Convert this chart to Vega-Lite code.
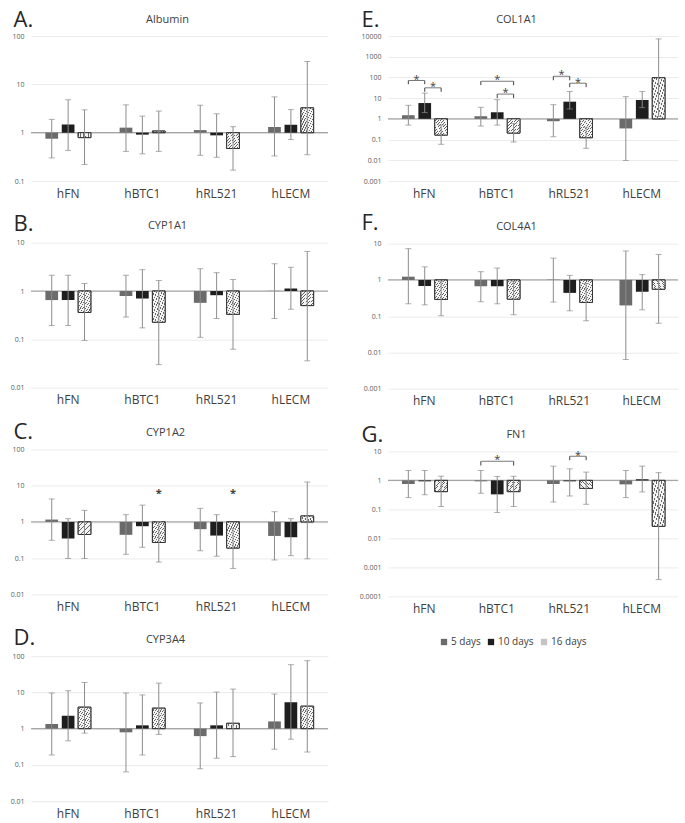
{
"$schema":"https://vega.github.io/schema/vega-lite/v6.json",
"padding":{"left":10,"top":8,"right":0,"bottom":6},
"spacing":30,
"datasets":{
"v":[
{"p":"A","g":"hFN","d":"5 days","m":0.75,"lo":0.30,"hi":1.88},
{"p":"A","g":"hFN","d":"10 days","m":1.48,"lo":0.43,"hi":4.8},
{"p":"A","g":"hFN","d":"16 days","m":0.79,"lo":0.22,"hi":2.97},
{"p":"A","g":"hBTC1","d":"5 days","m":1.27,"lo":0.41,"hi":3.76},
{"p":"A","g":"hBTC1","d":"10 days","m":0.91,"lo":0.365,"hi":2.2},
{"p":"A","g":"hBTC1","d":"16 days","m":1.08,"lo":0.41,"hi":2.8},
{"p":"A","g":"hRL521","d":"5 days","m":1.13,"lo":0.34,"hi":3.7},
{"p":"A","g":"hRL521","d":"10 days","m":0.88,"lo":0.31,"hi":2.46},
{"p":"A","g":"hRL521","d":"16 days","m":0.47,"lo":0.168,"hi":1.33},
{"p":"A","g":"hLECM","d":"5 days","m":1.31,"lo":0.33,"hi":5.5},
{"p":"A","g":"hLECM","d":"10 days","m":1.46,"lo":0.72,"hi":3.0},
{"p":"A","g":"hLECM","d":"16 days","m":3.26,"lo":0.35,"hi":29.7},
{"p":"B","g":"hFN","d":"5 days","m":0.65,"lo":0.193,"hi":2.12},
{"p":"B","g":"hFN","d":"10 days","m":0.65,"lo":0.193,"hi":2.12},
{"p":"B","g":"hFN","d":"16 days","m":0.36,"lo":0.095,"hi":1.43},
{"p":"B","g":"hBTC1","d":"5 days","m":0.79,"lo":0.29,"hi":2.12},
{"p":"B","g":"hBTC1","d":"10 days","m":0.70,"lo":0.173,"hi":2.77},
{"p":"B","g":"hBTC1","d":"16 days","m":0.226,"lo":0.030,"hi":1.65},
{"p":"B","g":"hRL521","d":"5 days","m":0.57,"lo":0.11,"hi":2.9},
{"p":"B","g":"hRL521","d":"10 days","m":0.82,"lo":0.27,"hi":2.4},
{"p":"B","g":"hRL521","d":"16 days","m":0.33,"lo":0.0625,"hi":1.73},
{"p":"B","g":"hLECM","d":"5 days","m":1.01,"lo":0.27,"hi":3.67},
{"p":"B","g":"hLECM","d":"10 days","m":1.13,"lo":0.42,"hi":3.1},
{"p":"B","g":"hLECM","d":"16 days","m":0.50,"lo":0.036,"hi":6.6},
{"p":"C","g":"hFN","d":"5 days","m":1.16,"lo":0.31,"hi":4.3},
{"p":"C","g":"hFN","d":"10 days","m":0.35,"lo":0.098,"hi":1.23},
{"p":"C","g":"hFN","d":"16 days","m":0.45,"lo":0.098,"hi":2.08},
{"p":"C","g":"hBTC1","d":"5 days","m":0.44,"lo":0.128,"hi":1.58},
{"p":"C","g":"hBTC1","d":"10 days","m":0.76,"lo":0.2,"hi":2.9},
{"p":"C","g":"hBTC1","d":"16 days","m":0.27,"lo":0.078,"hi":1.02},
{"p":"C","g":"hRL521","d":"5 days","m":0.63,"lo":0.16,"hi":2.36},
{"p":"C","g":"hRL521","d":"10 days","m":0.42,"lo":0.113,"hi":1.58},
{"p":"C","g":"hRL521","d":"16 days","m":0.19,"lo":0.052,"hi":0.66},
{"p":"C","g":"hLECM","d":"5 days","m":0.41,"lo":0.089,"hi":1.91},
{"p":"C","g":"hLECM","d":"10 days","m":0.38,"lo":0.117,"hi":1.23},
{"p":"C","g":"hLECM","d":"16 days","m":1.46,"lo":0.096,"hi":12.6},
{"p":"D","g":"hFN","d":"5 days","m":1.34,"lo":0.187,"hi":9.6},
{"p":"D","g":"hFN","d":"10 days","m":2.26,"lo":0.46,"hi":11.1},
{"p":"D","g":"hFN","d":"16 days","m":3.9,"lo":0.75,"hi":18.7},
{"p":"D","g":"hBTC1","d":"5 days","m":0.79,"lo":0.064,"hi":9.6},
{"p":"D","g":"hBTC1","d":"10 days","m":1.23,"lo":0.187,"hi":8.5},
{"p":"D","g":"hBTC1","d":"16 days","m":3.66,"lo":0.69,"hi":18},
{"p":"D","g":"hRL521","d":"5 days","m":0.62,"lo":0.078,"hi":5.1},
{"p":"D","g":"hRL521","d":"10 days","m":1.23,"lo":0.152,"hi":10.2},
{"p":"D","g":"hRL521","d":"16 days","m":1.4,"lo":0.169,"hi":12.3},
{"p":"D","g":"hLECM","d":"5 days","m":1.58,"lo":0.27,"hi":9.0},
{"p":"D","g":"hLECM","d":"10 days","m":5.3,"lo":0.51,"hi":58},
{"p":"D","g":"hLECM","d":"16 days","m":4.15,"lo":0.226,"hi":74.6},
{"p":"E","g":"hFN","d":"5 days","m":1.5,"lo":0.5,"hi":4.5},
{"p":"E","g":"hFN","d":"10 days","m":5.8,"lo":2.0,"hi":17.5},
{"p":"E","g":"hFN","d":"16 days","m":0.165,"lo":0.059,"hi":0.5},
{"p":"E","g":"hBTC1","d":"5 days","m":1.34,"lo":0.45,"hi":3.6},
{"p":"E","g":"hBTC1","d":"10 days","m":2.08,"lo":0.5,"hi":8.4},
{"p":"E","g":"hBTC1","d":"16 days","m":0.206,"lo":0.076,"hi":0.6},
{"p":"E","g":"hRL521","d":"5 days","m":0.77,"lo":0.137,"hi":4.85},
{"p":"E","g":"hRL521","d":"10 days","m":6.75,"lo":3.0,"hi":21},
{"p":"E","g":"hRL521","d":"16 days","m":0.123,"lo":0.038,"hi":0.4},
{"p":"E","g":"hLECM","d":"5 days","m":0.345,"lo":0.0098,"hi":11.8},
{"p":"E","g":"hLECM","d":"10 days","m":8.2,"lo":3.5,"hi":21},
{"p":"E","g":"hLECM","d":"16 days","m":97,"lo":1.3,"hi":7240},
{"p":"F","g":"hFN","d":"5 days","m":1.23,"lo":0.22,"hi":7.3},
{"p":"F","g":"hFN","d":"10 days","m":0.68,"lo":0.206,"hi":2.3},
{"p":"F","g":"hFN","d":"16 days","m":0.29,"lo":0.103,"hi":0.9},
{"p":"F","g":"hBTC1","d":"5 days","m":0.67,"lo":0.25,"hi":1.69},
{"p":"F","g":"hBTC1","d":"10 days","m":0.67,"lo":0.22,"hi":2.13},
{"p":"F","g":"hBTC1","d":"16 days","m":0.295,"lo":0.11,"hi":0.9},
{"p":"F","g":"hRL521","d":"5 days","m":1.02,"lo":0.245,"hi":4.0},
{"p":"F","g":"hRL521","d":"10 days","m":0.44,"lo":0.141,"hi":1.34},
{"p":"F","g":"hRL521","d":"16 days","m":0.24,"lo":0.075,"hi":0.8},
{"p":"F","g":"hLECM","d":"5 days","m":0.198,"lo":0.0064,"hi":6.3},
{"p":"F","g":"hLECM","d":"10 days","m":0.47,"lo":0.15,"hi":1.4},
{"p":"F","g":"hLECM","d":"16 days","m":0.555,"lo":0.064,"hi":5.05},
{"p":"G","g":"hFN","d":"5 days","m":0.75,"lo":0.255,"hi":2.2},
{"p":"G","g":"hFN","d":"10 days","m":0.93,"lo":0.32,"hi":2.2},
{"p":"G","g":"hFN","d":"16 days","m":0.41,"lo":0.126,"hi":1.4},
{"p":"G","g":"hBTC1","d":"5 days","m":0.93,"lo":0.36,"hi":2.2},
{"p":"G","g":"hBTC1","d":"10 days","m":0.33,"lo":0.078,"hi":1.37},
{"p":"G","g":"hBTC1","d":"16 days","m":0.41,"lo":0.126,"hi":1.4},
{"p":"G","g":"hRL521","d":"5 days","m":0.75,"lo":0.18,"hi":3.1},
{"p":"G","g":"hRL521","d":"10 days","m":0.93,"lo":0.29,"hi":2.5},
{"p":"G","g":"hRL521","d":"16 days","m":0.53,"lo":0.15,"hi":1.93},
{"p":"G","g":"hLECM","d":"5 days","m":0.73,"lo":0.255,"hi":2.2},
{"p":"G","g":"hLECM","d":"10 days","m":1.1,"lo":0.4,"hi":3.1},
{"p":"G","g":"hLECM","d":"16 days","m":0.026,"lo":0.00038,"hi":1.85}
],
"s":[
{"p":"C","g":"hBTC1","d":"16 days","y":7.3},
{"p":"C","g":"hRL521","d":"16 days","y":7.3}
],
"br":[
{"p":"E","g":"hFN","a":"5 days","b":"10 days","mid":"a","w":"n","top":71,"bot":47,"star":100},
{"p":"E","g":"hFN","a":"10 days","b":"16 days","mid":"b","w":"n","top":31.5,"bot":20.3,"star":47},
{"p":"E","g":"hBTC1","a":"5 days","b":"16 days","mid":"10 days","w":"w","top":66,"bot":42.5,"star":100},
{"p":"E","g":"hBTC1","a":"10 days","b":"16 days","mid":"b","w":"n","top":15.7,"bot":10,"star":24.5},
{"p":"E","g":"hRL521","a":"5 days","b":"10 days","mid":"a","w":"n","top":114,"bot":73,"star":177},
{"p":"E","g":"hRL521","a":"10 days","b":"16 days","mid":"b","w":"n","top":52.7,"bot":34,"star":73},
{"p":"G","g":"hBTC1","a":"5 days","b":"16 days","mid":"10 days","w":"w","top":4.58,"bot":3.26,"star":6.6},
{"p":"G","g":"hRL521","a":"10 days","b":"16 days","mid":"b","w":"n","top":6.8,"bot":4.96,"star":9.1}
]
},
"config":{
"view":{"stroke":null},
"font":"Open Sans",
"axisX":{"domain":false,"ticks":false,"tickSize":0,"labelPadding":7,"labelAngle":0,"labelFontSize":12,"labelColor":"#404040","grid":false,"titleFontSize":11,"titleFontWeight":"normal","titleColor":"#404040","titleAlign":"center","titleBaseline":"alphabetic"},
"axisY":{"domain":false,"ticks":false,"tickSize":0,"labelPadding":7,"labelFontSize":7,"labelColor":"#595959","grid":true,"gridColor":"#ebebeb","gridWidth":1,"titleAngle":0,"titleAlign":"left","titleBaseline":"alphabetic","titleFontSize":22,"titleFontWeight":"normal","titleColor":"#262626"}
},
"hconcat":[
{"bounds":"flush","spacing":61.7,"vconcat":[
{"width":297,"height":145,"layer":[
{"data":{"values":[{}]},"mark":{"type":"rule","color":"#a6a6a6","strokeWidth":1.3},"encoding":{"y":{"datum":1,"type":"quantitative"}}},
{"data":{"name":"v"},"transform":[{"filter":"datum.p=='A'"}],"mark":{"type":"bar","width":12.7,"stroke":"#333333"},"encoding":{
"x":{"field":"g","type":"nominal","scale":{"domain":["hFN","hBTC1","hRL521","hLECM"],"paddingInner":0.448,"paddingOuter":0.224},"axis":{"title":"Albumin","titleX":136,"titleY":-159}},
"xOffset":{"field":"d","type":"nominal","scale":{"domain":["5 days","a","10 days","b","16 days"],"paddingInner":0,"paddingOuter":0}},
"y":{"field":"m","type":"quantitative","scale":{"type":"log","domain":[0.1,100],"nice":false},"axis":{"values":[0.1,1,10,100],"format":"~g","title":"A.","titleX":-18,"titleY":-10}},
"y2":{"datum":1},
"fill":{"field":"d","type":"nominal","scale":{"domain":["5 days","10 days","16 days"],"range":["#6b6b6b","#1e1e1e","#c4c4c4"]},"legend":{"title":null,"orient":"none","legendX":408,"legendY":601,"direction":"horizontal","symbolType":"square","symbolSize":40,"labelFontSize":10,"labelColor":"#404040","columnPadding":5,"labelOffset":2,"symbolStrokeWidth":0}},
"strokeWidth":{"condition":{"test":"datum.d=='16 days'","value":1},"value":0}}},
{"data":{"name":"v"},"transform":[{"filter":"datum.p=='A' && datum.d=='16 days'"}],"mark":{"type":"bar","width":12.7,"stroke":"#333333","strokeWidth":1,"fill":{"gradient":"linear","x1":0,"y1":0,"x2":1,"y2":1,"stops":[{"offset":0,"color":"#f4f4f4"},{"offset":0.075,"color":"#f4f4f4"},{"offset":0.075,"color":"#666666"},{"offset":0.1,"color":"#666666"},{"offset":0.1,"color":"#f4f4f4"},{"offset":0.175,"color":"#f4f4f4"},{"offset":0.175,"color":"#666666"},{"offset":0.2,"color":"#666666"},{"offset":0.2,"color":"#f4f4f4"},{"offset":0.275,"color":"#f4f4f4"},{"offset":0.275,"color":"#666666"},{"offset":0.3,"color":"#666666"},{"offset":0.3,"color":"#f4f4f4"},{"offset":0.375,"color":"#f4f4f4"},{"offset":0.375,"color":"#666666"},{"offset":0.4,"color":"#666666"},{"offset":0.4,"color":"#f4f4f4"},{"offset":0.475,"color":"#f4f4f4"},{"offset":0.475,"color":"#666666"},{"offset":0.5,"color":"#666666"},{"offset":0.5,"color":"#f4f4f4"},{"offset":0.575,"color":"#f4f4f4"},{"offset":0.575,"color":"#666666"},{"offset":0.6,"color":"#666666"},{"offset":0.6,"color":"#f4f4f4"},{"offset":0.675,"color":"#f4f4f4"},{"offset":0.675,"color":"#666666"},{"offset":0.7,"color":"#666666"},{"offset":0.7,"color":"#f4f4f4"},{"offset":0.775,"color":"#f4f4f4"},{"offset":0.775,"color":"#666666"},{"offset":0.8,"color":"#666666"},{"offset":0.8,"color":"#f4f4f4"},{"offset":0.875,"color":"#f4f4f4"},{"offset":0.875,"color":"#666666"},{"offset":0.9,"color":"#666666"},{"offset":0.9,"color":"#f4f4f4"},{"offset":0.975,"color":"#f4f4f4"},{"offset":0.975,"color":"#666666"},{"offset":1,"color":"#666666"}]}},"encoding":{
"x":{"field":"g","type":"nominal","scale":{"domain":["hFN","hBTC1","hRL521","hLECM"],"paddingInner":0.448,"paddingOuter":0.224}},
"xOffset":{"field":"d","type":"nominal","scale":{"domain":["5 days","a","10 days","b","16 days"],"paddingInner":0,"paddingOuter":0}},
"y":{"field":"m","type":"quantitative"},"y2":{"datum":1}}},
{"data":{"name":"v"},"transform":[{"filter":"datum.p=='A'"}],"mark":{"type":"rule","color":"#8c8c8c","strokeWidth":1},"encoding":{
"x":{"field":"g","type":"nominal","scale":{"domain":["hFN","hBTC1","hRL521","hLECM"],"paddingInner":0.448,"paddingOuter":0.224}},
"xOffset":{"field":"d","type":"nominal","scale":{"domain":["5 days","a","10 days","b","16 days"],"paddingInner":0,"paddingOuter":0}},
"y":{"field":"lo","type":"quantitative"},"y2":{"field":"hi"}}},
{"data":{"name":"v"},"transform":[{"filter":"datum.p=='A'"}],"mark":{"type":"tick","color":"#8c8c8c","thickness":1,"size":6},"encoding":{
"x":{"field":"g","type":"nominal","scale":{"domain":["hFN","hBTC1","hRL521","hLECM"],"paddingInner":0.448,"paddingOuter":0.224}},
"xOffset":{"field":"d","type":"nominal","scale":{"domain":["5 days","a","10 days","b","16 days"],"paddingInner":0,"paddingOuter":0}},
"y":{"field":"lo","type":"quantitative"}}},
{"data":{"name":"v"},"transform":[{"filter":"datum.p=='A'"}],"mark":{"type":"tick","color":"#8c8c8c","thickness":1,"size":6},"encoding":{
"x":{"field":"g","type":"nominal","scale":{"domain":["hFN","hBTC1","hRL521","hLECM"],"paddingInner":0.448,"paddingOuter":0.224}},
"xOffset":{"field":"d","type":"nominal","scale":{"domain":["5 days","a","10 days","b","16 days"],"paddingInner":0,"paddingOuter":0}},
"y":{"field":"hi","type":"quantitative"}}}
]},
{"width":297,"height":145,"layer":[
{"data":{"values":[{}]},"mark":{"type":"rule","color":"#a6a6a6","strokeWidth":1.3},"encoding":{"y":{"datum":1,"type":"quantitative"}}},
{"data":{"name":"v"},"transform":[{"filter":"datum.p=='B'"}],"mark":{"type":"bar","width":12.7,"stroke":"#333333"},"encoding":{
"x":{"field":"g","type":"nominal","scale":{"domain":["hFN","hBTC1","hRL521","hLECM"],"paddingInner":0.448,"paddingOuter":0.224},"axis":{"title":"CYP1A1","titleX":136,"titleY":-159}},
"xOffset":{"field":"d","type":"nominal","scale":{"domain":["5 days","a","10 days","b","16 days"],"paddingInner":0,"paddingOuter":0}},
"y":{"field":"m","type":"quantitative","scale":{"type":"log","domain":[0.01,10],"nice":false},"axis":{"values":[0.01,0.1,1,10],"format":"~g","title":"B.","titleX":-18,"titleY":-12}},
"y2":{"datum":1},
"fill":{"field":"d","type":"nominal","scale":{"domain":["5 days","10 days","16 days"],"range":["#6b6b6b","#1e1e1e","#c4c4c4"]},"legend":{"title":null,"orient":"none","legendX":408,"legendY":601,"direction":"horizontal","symbolType":"square","symbolSize":40,"labelFontSize":10,"labelColor":"#404040","columnPadding":5,"labelOffset":2,"symbolStrokeWidth":0}},
"strokeWidth":{"condition":{"test":"datum.d=='16 days'","value":1},"value":0}}},
{"data":{"name":"v"},"transform":[{"filter":"datum.p=='B' && datum.d=='16 days'"}],"mark":{"type":"bar","width":12.7,"stroke":"#333333","strokeWidth":1,"fill":{"gradient":"linear","x1":0,"y1":0,"x2":1,"y2":1,"stops":[{"offset":0,"color":"#f4f4f4"},{"offset":0.075,"color":"#f4f4f4"},{"offset":0.075,"color":"#666666"},{"offset":0.1,"color":"#666666"},{"offset":0.1,"color":"#f4f4f4"},{"offset":0.175,"color":"#f4f4f4"},{"offset":0.175,"color":"#666666"},{"offset":0.2,"color":"#666666"},{"offset":0.2,"color":"#f4f4f4"},{"offset":0.275,"color":"#f4f4f4"},{"offset":0.275,"color":"#666666"},{"offset":0.3,"color":"#666666"},{"offset":0.3,"color":"#f4f4f4"},{"offset":0.375,"color":"#f4f4f4"},{"offset":0.375,"color":"#666666"},{"offset":0.4,"color":"#666666"},{"offset":0.4,"color":"#f4f4f4"},{"offset":0.475,"color":"#f4f4f4"},{"offset":0.475,"color":"#666666"},{"offset":0.5,"color":"#666666"},{"offset":0.5,"color":"#f4f4f4"},{"offset":0.575,"color":"#f4f4f4"},{"offset":0.575,"color":"#666666"},{"offset":0.6,"color":"#666666"},{"offset":0.6,"color":"#f4f4f4"},{"offset":0.675,"color":"#f4f4f4"},{"offset":0.675,"color":"#666666"},{"offset":0.7,"color":"#666666"},{"offset":0.7,"color":"#f4f4f4"},{"offset":0.775,"color":"#f4f4f4"},{"offset":0.775,"color":"#666666"},{"offset":0.8,"color":"#666666"},{"offset":0.8,"color":"#f4f4f4"},{"offset":0.875,"color":"#f4f4f4"},{"offset":0.875,"color":"#666666"},{"offset":0.9,"color":"#666666"},{"offset":0.9,"color":"#f4f4f4"},{"offset":0.975,"color":"#f4f4f4"},{"offset":0.975,"color":"#666666"},{"offset":1,"color":"#666666"}]}},"encoding":{
"x":{"field":"g","type":"nominal","scale":{"domain":["hFN","hBTC1","hRL521","hLECM"],"paddingInner":0.448,"paddingOuter":0.224}},
"xOffset":{"field":"d","type":"nominal","scale":{"domain":["5 days","a","10 days","b","16 days"],"paddingInner":0,"paddingOuter":0}},
"y":{"field":"m","type":"quantitative"},"y2":{"datum":1}}},
{"data":{"name":"v"},"transform":[{"filter":"datum.p=='B'"}],"mark":{"type":"rule","color":"#8c8c8c","strokeWidth":1},"encoding":{
"x":{"field":"g","type":"nominal","scale":{"domain":["hFN","hBTC1","hRL521","hLECM"],"paddingInner":0.448,"paddingOuter":0.224}},
"xOffset":{"field":"d","type":"nominal","scale":{"domain":["5 days","a","10 days","b","16 days"],"paddingInner":0,"paddingOuter":0}},
"y":{"field":"lo","type":"quantitative"},"y2":{"field":"hi"}}},
{"data":{"name":"v"},"transform":[{"filter":"datum.p=='B'"}],"mark":{"type":"tick","color":"#8c8c8c","thickness":1,"size":6},"encoding":{
"x":{"field":"g","type":"nominal","scale":{"domain":["hFN","hBTC1","hRL521","hLECM"],"paddingInner":0.448,"paddingOuter":0.224}},
"xOffset":{"field":"d","type":"nominal","scale":{"domain":["5 days","a","10 days","b","16 days"],"paddingInner":0,"paddingOuter":0}},
"y":{"field":"lo","type":"quantitative"}}},
{"data":{"name":"v"},"transform":[{"filter":"datum.p=='B'"}],"mark":{"type":"tick","color":"#8c8c8c","thickness":1,"size":6},"encoding":{
"x":{"field":"g","type":"nominal","scale":{"domain":["hFN","hBTC1","hRL521","hLECM"],"paddingInner":0.448,"paddingOuter":0.224}},
"xOffset":{"field":"d","type":"nominal","scale":{"domain":["5 days","a","10 days","b","16 days"],"paddingInner":0,"paddingOuter":0}},
"y":{"field":"hi","type":"quantitative"}}}
]},
{"width":297,"height":145,"layer":[
{"data":{"values":[{}]},"mark":{"type":"rule","color":"#a6a6a6","strokeWidth":1.3},"encoding":{"y":{"datum":1,"type":"quantitative"}}},
{"data":{"name":"v"},"transform":[{"filter":"datum.p=='C'"}],"mark":{"type":"bar","width":12.7,"stroke":"#333333"},"encoding":{
"x":{"field":"g","type":"nominal","scale":{"domain":["hFN","hBTC1","hRL521","hLECM"],"paddingInner":0.448,"paddingOuter":0.224},"axis":{"title":"CYP1A2","titleX":134,"titleY":-159}},
"xOffset":{"field":"d","type":"nominal","scale":{"domain":["5 days","a","10 days","b","16 days"],"paddingInner":0,"paddingOuter":0}},
"y":{"field":"m","type":"quantitative","scale":{"type":"log","domain":[0.01,100],"nice":false},"axis":{"values":[0.01,0.1,1,10,100],"format":"~g","title":"C.","titleX":-18,"titleY":-11}},
"y2":{"datum":1},
"fill":{"field":"d","type":"nominal","scale":{"domain":["5 days","10 days","16 days"],"range":["#6b6b6b","#1e1e1e","#c4c4c4"]},"legend":{"title":null,"orient":"none","legendX":408,"legendY":601,"direction":"horizontal","symbolType":"square","symbolSize":40,"labelFontSize":10,"labelColor":"#404040","columnPadding":5,"labelOffset":2,"symbolStrokeWidth":0}},
"strokeWidth":{"condition":{"test":"datum.d=='16 days'","value":1},"value":0}}},
{"data":{"name":"v"},"transform":[{"filter":"datum.p=='C' && datum.d=='16 days'"}],"mark":{"type":"bar","width":12.7,"stroke":"#333333","strokeWidth":1,"fill":{"gradient":"linear","x1":0,"y1":0,"x2":1,"y2":1,"stops":[{"offset":0,"color":"#f4f4f4"},{"offset":0.075,"color":"#f4f4f4"},{"offset":0.075,"color":"#666666"},{"offset":0.1,"color":"#666666"},{"offset":0.1,"color":"#f4f4f4"},{"offset":0.175,"color":"#f4f4f4"},{"offset":0.175,"color":"#666666"},{"offset":0.2,"color":"#666666"},{"offset":0.2,"color":"#f4f4f4"},{"offset":0.275,"color":"#f4f4f4"},{"offset":0.275,"color":"#666666"},{"offset":0.3,"color":"#666666"},{"offset":0.3,"color":"#f4f4f4"},{"offset":0.375,"color":"#f4f4f4"},{"offset":0.375,"color":"#666666"},{"offset":0.4,"color":"#666666"},{"offset":0.4,"color":"#f4f4f4"},{"offset":0.475,"color":"#f4f4f4"},{"offset":0.475,"color":"#666666"},{"offset":0.5,"color":"#666666"},{"offset":0.5,"color":"#f4f4f4"},{"offset":0.575,"color":"#f4f4f4"},{"offset":0.575,"color":"#666666"},{"offset":0.6,"color":"#666666"},{"offset":0.6,"color":"#f4f4f4"},{"offset":0.675,"color":"#f4f4f4"},{"offset":0.675,"color":"#666666"},{"offset":0.7,"color":"#666666"},{"offset":0.7,"color":"#f4f4f4"},{"offset":0.775,"color":"#f4f4f4"},{"offset":0.775,"color":"#666666"},{"offset":0.8,"color":"#666666"},{"offset":0.8,"color":"#f4f4f4"},{"offset":0.875,"color":"#f4f4f4"},{"offset":0.875,"color":"#666666"},{"offset":0.9,"color":"#666666"},{"offset":0.9,"color":"#f4f4f4"},{"offset":0.975,"color":"#f4f4f4"},{"offset":0.975,"color":"#666666"},{"offset":1,"color":"#666666"}]}},"encoding":{
"x":{"field":"g","type":"nominal","scale":{"domain":["hFN","hBTC1","hRL521","hLECM"],"paddingInner":0.448,"paddingOuter":0.224}},
"xOffset":{"field":"d","type":"nominal","scale":{"domain":["5 days","a","10 days","b","16 days"],"paddingInner":0,"paddingOuter":0}},
"y":{"field":"m","type":"quantitative"},"y2":{"datum":1}}},
{"data":{"name":"v"},"transform":[{"filter":"datum.p=='C'"}],"mark":{"type":"rule","color":"#8c8c8c","strokeWidth":1},"encoding":{
"x":{"field":"g","type":"nominal","scale":{"domain":["hFN","hBTC1","hRL521","hLECM"],"paddingInner":0.448,"paddingOuter":0.224}},
"xOffset":{"field":"d","type":"nominal","scale":{"domain":["5 days","a","10 days","b","16 days"],"paddingInner":0,"paddingOuter":0}},
"y":{"field":"lo","type":"quantitative"},"y2":{"field":"hi"}}},
{"data":{"name":"v"},"transform":[{"filter":"datum.p=='C'"}],"mark":{"type":"tick","color":"#8c8c8c","thickness":1,"size":6},"encoding":{
"x":{"field":"g","type":"nominal","scale":{"domain":["hFN","hBTC1","hRL521","hLECM"],"paddingInner":0.448,"paddingOuter":0.224}},
"xOffset":{"field":"d","type":"nominal","scale":{"domain":["5 days","a","10 days","b","16 days"],"paddingInner":0,"paddingOuter":0}},
"y":{"field":"lo","type":"quantitative"}}},
{"data":{"name":"v"},"transform":[{"filter":"datum.p=='C'"}],"mark":{"type":"tick","color":"#8c8c8c","thickness":1,"size":6},"encoding":{
"x":{"field":"g","type":"nominal","scale":{"domain":["hFN","hBTC1","hRL521","hLECM"],"paddingInner":0.448,"paddingOuter":0.224}},
"xOffset":{"field":"d","type":"nominal","scale":{"domain":["5 days","a","10 days","b","16 days"],"paddingInner":0,"paddingOuter":0}},
"y":{"field":"hi","type":"quantitative"}}},
{"data":{"name":"s"},"transform":[{"filter":"datum.p=='C'"}],"mark":{"type":"text","text":"*","fontSize":11,"fontWeight":"bold","color":"#404040","baseline":"alphabetic","dy":6},"encoding":{
"x":{"field":"g","type":"nominal","scale":{"domain":["hFN","hBTC1","hRL521","hLECM"],"paddingInner":0.448,"paddingOuter":0.224}},
"xOffset":{"field":"d","type":"nominal","scale":{"domain":["5 days","a","10 days","b","16 days"],"paddingInner":0,"paddingOuter":0}},
"y":{"field":"y","type":"quantitative"}}}
]},
{"width":297,"height":145,"layer":[
{"data":{"values":[{}]},"mark":{"type":"rule","color":"#a6a6a6","strokeWidth":1.3},"encoding":{"y":{"datum":1,"type":"quantitative"}}},
{"data":{"name":"v"},"transform":[{"filter":"datum.p=='D'"}],"mark":{"type":"bar","width":12.7,"stroke":"#333333"},"encoding":{
"x":{"field":"g","type":"nominal","scale":{"domain":["hFN","hBTC1","hRL521","hLECM"],"paddingInner":0.448,"paddingOuter":0.224},"axis":{"title":"CYP3A4","titleX":134,"titleY":-159}},
"xOffset":{"field":"d","type":"nominal","scale":{"domain":["5 days","a","10 days","b","16 days"],"paddingInner":0,"paddingOuter":0}},
"y":{"field":"m","type":"quantitative","scale":{"type":"log","domain":[0.01,100],"nice":false},"axis":{"values":[0.01,0.1,1,10,100],"format":"~g","title":"D.","titleX":-18,"titleY":-12}},
"y2":{"datum":1},
"fill":{"field":"d","type":"nominal","scale":{"domain":["5 days","10 days","16 days"],"range":["#6b6b6b","#1e1e1e","#c4c4c4"]},"legend":{"title":null,"orient":"none","legendX":408,"legendY":601,"direction":"horizontal","symbolType":"square","symbolSize":40,"labelFontSize":10,"labelColor":"#404040","columnPadding":5,"labelOffset":2,"symbolStrokeWidth":0}},
"strokeWidth":{"condition":{"test":"datum.d=='16 days'","value":1},"value":0}}},
{"data":{"name":"v"},"transform":[{"filter":"datum.p=='D' && datum.d=='16 days'"}],"mark":{"type":"bar","width":12.7,"stroke":"#333333","strokeWidth":1,"fill":{"gradient":"linear","x1":0,"y1":0,"x2":1,"y2":1,"stops":[{"offset":0,"color":"#f4f4f4"},{"offset":0.075,"color":"#f4f4f4"},{"offset":0.075,"color":"#666666"},{"offset":0.1,"color":"#666666"},{"offset":0.1,"color":"#f4f4f4"},{"offset":0.175,"color":"#f4f4f4"},{"offset":0.175,"color":"#666666"},{"offset":0.2,"color":"#666666"},{"offset":0.2,"color":"#f4f4f4"},{"offset":0.275,"color":"#f4f4f4"},{"offset":0.275,"color":"#666666"},{"offset":0.3,"color":"#666666"},{"offset":0.3,"color":"#f4f4f4"},{"offset":0.375,"color":"#f4f4f4"},{"offset":0.375,"color":"#666666"},{"offset":0.4,"color":"#666666"},{"offset":0.4,"color":"#f4f4f4"},{"offset":0.475,"color":"#f4f4f4"},{"offset":0.475,"color":"#666666"},{"offset":0.5,"color":"#666666"},{"offset":0.5,"color":"#f4f4f4"},{"offset":0.575,"color":"#f4f4f4"},{"offset":0.575,"color":"#666666"},{"offset":0.6,"color":"#666666"},{"offset":0.6,"color":"#f4f4f4"},{"offset":0.675,"color":"#f4f4f4"},{"offset":0.675,"color":"#666666"},{"offset":0.7,"color":"#666666"},{"offset":0.7,"color":"#f4f4f4"},{"offset":0.775,"color":"#f4f4f4"},{"offset":0.775,"color":"#666666"},{"offset":0.8,"color":"#666666"},{"offset":0.8,"color":"#f4f4f4"},{"offset":0.875,"color":"#f4f4f4"},{"offset":0.875,"color":"#666666"},{"offset":0.9,"color":"#666666"},{"offset":0.9,"color":"#f4f4f4"},{"offset":0.975,"color":"#f4f4f4"},{"offset":0.975,"color":"#666666"},{"offset":1,"color":"#666666"}]}},"encoding":{
"x":{"field":"g","type":"nominal","scale":{"domain":["hFN","hBTC1","hRL521","hLECM"],"paddingInner":0.448,"paddingOuter":0.224}},
"xOffset":{"field":"d","type":"nominal","scale":{"domain":["5 days","a","10 days","b","16 days"],"paddingInner":0,"paddingOuter":0}},
"y":{"field":"m","type":"quantitative"},"y2":{"datum":1}}},
{"data":{"name":"v"},"transform":[{"filter":"datum.p=='D'"}],"mark":{"type":"rule","color":"#8c8c8c","strokeWidth":1},"encoding":{
"x":{"field":"g","type":"nominal","scale":{"domain":["hFN","hBTC1","hRL521","hLECM"],"paddingInner":0.448,"paddingOuter":0.224}},
"xOffset":{"field":"d","type":"nominal","scale":{"domain":["5 days","a","10 days","b","16 days"],"paddingInner":0,"paddingOuter":0}},
"y":{"field":"lo","type":"quantitative"},"y2":{"field":"hi"}}},
{"data":{"name":"v"},"transform":[{"filter":"datum.p=='D'"}],"mark":{"type":"tick","color":"#8c8c8c","thickness":1,"size":6},"encoding":{
"x":{"field":"g","type":"nominal","scale":{"domain":["hFN","hBTC1","hRL521","hLECM"],"paddingInner":0.448,"paddingOuter":0.224}},
"xOffset":{"field":"d","type":"nominal","scale":{"domain":["5 days","a","10 days","b","16 days"],"paddingInner":0,"paddingOuter":0}},
"y":{"field":"lo","type":"quantitative"}}},
{"data":{"name":"v"},"transform":[{"filter":"datum.p=='D'"}],"mark":{"type":"tick","color":"#8c8c8c","thickness":1,"size":6},"encoding":{
"x":{"field":"g","type":"nominal","scale":{"domain":["hFN","hBTC1","hRL521","hLECM"],"paddingInner":0.448,"paddingOuter":0.224}},
"xOffset":{"field":"d","type":"nominal","scale":{"domain":["5 days","a","10 days","b","16 days"],"paddingInner":0,"paddingOuter":0}},
"y":{"field":"hi","type":"quantitative"}}}
]}
]},
{"bounds":"flush","spacing":62.7,"vconcat":[
{"width":290,"height":145,"layer":[
{"data":{"values":[{}]},"mark":{"type":"rule","color":"#a6a6a6","strokeWidth":1.3},"encoding":{"y":{"datum":1,"type":"quantitative"}}},
{"data":{"name":"v"},"transform":[{"filter":"datum.p=='E'"}],"mark":{"type":"bar","width":12.7,"stroke":"#333333"},"encoding":{
"x":{"field":"g","type":"nominal","scale":{"domain":["hFN","hBTC1","hRL521","hLECM"],"paddingInner":0.448,"paddingOuter":0.224},"axis":{"title":"COL1A1","titleX":128,"titleY":-159}},
"xOffset":{"field":"d","type":"nominal","scale":{"domain":["5 days","a","10 days","b","16 days"],"paddingInner":0,"paddingOuter":0}},
"y":{"field":"m","type":"quantitative","scale":{"type":"log","domain":[0.001,10000],"nice":false},"axis":{"values":[0.001,0.01,0.1,1,10,100,1000,10000],"format":"~g","title":"E.","titleX":-27,"titleY":-10}},
"y2":{"datum":1},
"fill":{"field":"d","type":"nominal","scale":{"domain":["5 days","10 days","16 days"],"range":["#6b6b6b","#1e1e1e","#c4c4c4"]},"legend":{"title":null,"orient":"none","legendX":408,"legendY":601,"direction":"horizontal","symbolType":"square","symbolSize":40,"labelFontSize":10,"labelColor":"#404040","columnPadding":5,"labelOffset":2,"symbolStrokeWidth":0}},
"strokeWidth":{"condition":{"test":"datum.d=='16 days'","value":1},"value":0}}},
{"data":{"name":"v"},"transform":[{"filter":"datum.p=='E' && datum.d=='16 days'"}],"mark":{"type":"bar","width":12.7,"stroke":"#333333","strokeWidth":1,"fill":{"gradient":"linear","x1":0,"y1":0,"x2":1,"y2":1,"stops":[{"offset":0,"color":"#f4f4f4"},{"offset":0.075,"color":"#f4f4f4"},{"offset":0.075,"color":"#666666"},{"offset":0.1,"color":"#666666"},{"offset":0.1,"color":"#f4f4f4"},{"offset":0.175,"color":"#f4f4f4"},{"offset":0.175,"color":"#666666"},{"offset":0.2,"color":"#666666"},{"offset":0.2,"color":"#f4f4f4"},{"offset":0.275,"color":"#f4f4f4"},{"offset":0.275,"color":"#666666"},{"offset":0.3,"color":"#666666"},{"offset":0.3,"color":"#f4f4f4"},{"offset":0.375,"color":"#f4f4f4"},{"offset":0.375,"color":"#666666"},{"offset":0.4,"color":"#666666"},{"offset":0.4,"color":"#f4f4f4"},{"offset":0.475,"color":"#f4f4f4"},{"offset":0.475,"color":"#666666"},{"offset":0.5,"color":"#666666"},{"offset":0.5,"color":"#f4f4f4"},{"offset":0.575,"color":"#f4f4f4"},{"offset":0.575,"color":"#666666"},{"offset":0.6,"color":"#666666"},{"offset":0.6,"color":"#f4f4f4"},{"offset":0.675,"color":"#f4f4f4"},{"offset":0.675,"color":"#666666"},{"offset":0.7,"color":"#666666"},{"offset":0.7,"color":"#f4f4f4"},{"offset":0.775,"color":"#f4f4f4"},{"offset":0.775,"color":"#666666"},{"offset":0.8,"color":"#666666"},{"offset":0.8,"color":"#f4f4f4"},{"offset":0.875,"color":"#f4f4f4"},{"offset":0.875,"color":"#666666"},{"offset":0.9,"color":"#666666"},{"offset":0.9,"color":"#f4f4f4"},{"offset":0.975,"color":"#f4f4f4"},{"offset":0.975,"color":"#666666"},{"offset":1,"color":"#666666"}]}},"encoding":{
"x":{"field":"g","type":"nominal","scale":{"domain":["hFN","hBTC1","hRL521","hLECM"],"paddingInner":0.448,"paddingOuter":0.224}},
"xOffset":{"field":"d","type":"nominal","scale":{"domain":["5 days","a","10 days","b","16 days"],"paddingInner":0,"paddingOuter":0}},
"y":{"field":"m","type":"quantitative"},"y2":{"datum":1}}},
{"data":{"name":"v"},"transform":[{"filter":"datum.p=='E'"}],"mark":{"type":"rule","color":"#8c8c8c","strokeWidth":1},"encoding":{
"x":{"field":"g","type":"nominal","scale":{"domain":["hFN","hBTC1","hRL521","hLECM"],"paddingInner":0.448,"paddingOuter":0.224}},
"xOffset":{"field":"d","type":"nominal","scale":{"domain":["5 days","a","10 days","b","16 days"],"paddingInner":0,"paddingOuter":0}},
"y":{"field":"lo","type":"quantitative"},"y2":{"field":"hi"}}},
{"data":{"name":"v"},"transform":[{"filter":"datum.p=='E'"}],"mark":{"type":"tick","color":"#8c8c8c","thickness":1,"size":6},"encoding":{
"x":{"field":"g","type":"nominal","scale":{"domain":["hFN","hBTC1","hRL521","hLECM"],"paddingInner":0.448,"paddingOuter":0.224}},
"xOffset":{"field":"d","type":"nominal","scale":{"domain":["5 days","a","10 days","b","16 days"],"paddingInner":0,"paddingOuter":0}},
"y":{"field":"lo","type":"quantitative"}}},
{"data":{"name":"v"},"transform":[{"filter":"datum.p=='E'"}],"mark":{"type":"tick","color":"#8c8c8c","thickness":1,"size":6},"encoding":{
"x":{"field":"g","type":"nominal","scale":{"domain":["hFN","hBTC1","hRL521","hLECM"],"paddingInner":0.448,"paddingOuter":0.224}},
"xOffset":{"field":"d","type":"nominal","scale":{"domain":["5 days","a","10 days","b","16 days"],"paddingInner":0,"paddingOuter":0}},
"y":{"field":"hi","type":"quantitative"}}},
{"data":{"name":"br"},"transform":[{"filter":"datum.p=='E'"}],"mark":{"type":"rule","color":"#404040","strokeWidth":1},"encoding":{
"x":{"field":"g","type":"nominal","scale":{"domain":["hFN","hBTC1","hRL521","hLECM"],"paddingInner":0.448,"paddingOuter":0.224}},
"xOffset":{"field":"a","type":"nominal","scale":{"domain":["5 days","a","10 days","b","16 days"],"paddingInner":0,"paddingOuter":0}},
"y":{"field":"top","type":"quantitative"},"y2":{"field":"bot"}}},
{"data":{"name":"br"},"transform":[{"filter":"datum.p=='E'"}],"mark":{"type":"rule","color":"#404040","strokeWidth":1},"encoding":{
"x":{"field":"g","type":"nominal","scale":{"domain":["hFN","hBTC1","hRL521","hLECM"],"paddingInner":0.448,"paddingOuter":0.224}},
"xOffset":{"field":"b","type":"nominal","scale":{"domain":["5 days","a","10 days","b","16 days"],"paddingInner":0,"paddingOuter":0}},
"y":{"field":"top","type":"quantitative"},"y2":{"field":"bot"}}},
{"data":{"name":"br"},"transform":[{"filter":"datum.p=='E' && datum.w=='n'"}],"mark":{"type":"tick","color":"#404040","thickness":1,"size":16},"encoding":{
"x":{"field":"g","type":"nominal","scale":{"domain":["hFN","hBTC1","hRL521","hLECM"],"paddingInner":0.448,"paddingOuter":0.224}},
"xOffset":{"field":"mid","type":"nominal","scale":{"domain":["5 days","a","10 days","b","16 days"],"paddingInner":0,"paddingOuter":0}},
"y":{"field":"top","type":"quantitative"}}},
{"data":{"name":"br"},"transform":[{"filter":"datum.p=='E' && datum.w=='w'"}],"mark":{"type":"tick","color":"#404040","thickness":1,"size":32},"encoding":{
"x":{"field":"g","type":"nominal","scale":{"domain":["hFN","hBTC1","hRL521","hLECM"],"paddingInner":0.448,"paddingOuter":0.224}},
"xOffset":{"field":"mid","type":"nominal","scale":{"domain":["5 days","a","10 days","b","16 days"],"paddingInner":0,"paddingOuter":0}},
"y":{"field":"top","type":"quantitative"}}},
{"data":{"name":"br"},"transform":[{"filter":"datum.p=='E'"}],"mark":{"type":"text","text":"*","fontSize":11,"color":"#404040","baseline":"alphabetic","dy":6},"encoding":{
"x":{"field":"g","type":"nominal","scale":{"domain":["hFN","hBTC1","hRL521","hLECM"],"paddingInner":0.448,"paddingOuter":0.224}},
"xOffset":{"field":"mid","type":"nominal","scale":{"domain":["5 days","a","10 days","b","16 days"],"paddingInner":0,"paddingOuter":0}},
"y":{"field":"star","type":"quantitative"}}}
]},
{"width":290,"height":145,"layer":[
{"data":{"values":[{}]},"mark":{"type":"rule","color":"#a6a6a6","strokeWidth":1.3},"encoding":{"y":{"datum":1,"type":"quantitative"}}},
{"data":{"name":"v"},"transform":[{"filter":"datum.p=='F'"}],"mark":{"type":"bar","width":12.7,"stroke":"#333333"},"encoding":{
"x":{"field":"g","type":"nominal","scale":{"domain":["hFN","hBTC1","hRL521","hLECM"],"paddingInner":0.448,"paddingOuter":0.224},"axis":{"title":"COL4A1","titleX":128,"titleY":-159}},
"xOffset":{"field":"d","type":"nominal","scale":{"domain":["5 days","a","10 days","b","16 days"],"paddingInner":0,"paddingOuter":0}},
"y":{"field":"m","type":"quantitative","scale":{"type":"log","domain":[0.001,10],"nice":false},"axis":{"values":[0.001,0.01,0.1,1,10],"format":"~g","title":"F.","titleX":-27,"titleY":-14}},
"y2":{"datum":1},
"fill":{"field":"d","type":"nominal","scale":{"domain":["5 days","10 days","16 days"],"range":["#6b6b6b","#1e1e1e","#c4c4c4"]},"legend":{"title":null,"orient":"none","legendX":408,"legendY":601,"direction":"horizontal","symbolType":"square","symbolSize":40,"labelFontSize":10,"labelColor":"#404040","columnPadding":5,"labelOffset":2,"symbolStrokeWidth":0}},
"strokeWidth":{"condition":{"test":"datum.d=='16 days'","value":1},"value":0}}},
{"data":{"name":"v"},"transform":[{"filter":"datum.p=='F' && datum.d=='16 days'"}],"mark":{"type":"bar","width":12.7,"stroke":"#333333","strokeWidth":1,"fill":{"gradient":"linear","x1":0,"y1":0,"x2":1,"y2":1,"stops":[{"offset":0,"color":"#f4f4f4"},{"offset":0.075,"color":"#f4f4f4"},{"offset":0.075,"color":"#666666"},{"offset":0.1,"color":"#666666"},{"offset":0.1,"color":"#f4f4f4"},{"offset":0.175,"color":"#f4f4f4"},{"offset":0.175,"color":"#666666"},{"offset":0.2,"color":"#666666"},{"offset":0.2,"color":"#f4f4f4"},{"offset":0.275,"color":"#f4f4f4"},{"offset":0.275,"color":"#666666"},{"offset":0.3,"color":"#666666"},{"offset":0.3,"color":"#f4f4f4"},{"offset":0.375,"color":"#f4f4f4"},{"offset":0.375,"color":"#666666"},{"offset":0.4,"color":"#666666"},{"offset":0.4,"color":"#f4f4f4"},{"offset":0.475,"color":"#f4f4f4"},{"offset":0.475,"color":"#666666"},{"offset":0.5,"color":"#666666"},{"offset":0.5,"color":"#f4f4f4"},{"offset":0.575,"color":"#f4f4f4"},{"offset":0.575,"color":"#666666"},{"offset":0.6,"color":"#666666"},{"offset":0.6,"color":"#f4f4f4"},{"offset":0.675,"color":"#f4f4f4"},{"offset":0.675,"color":"#666666"},{"offset":0.7,"color":"#666666"},{"offset":0.7,"color":"#f4f4f4"},{"offset":0.775,"color":"#f4f4f4"},{"offset":0.775,"color":"#666666"},{"offset":0.8,"color":"#666666"},{"offset":0.8,"color":"#f4f4f4"},{"offset":0.875,"color":"#f4f4f4"},{"offset":0.875,"color":"#666666"},{"offset":0.9,"color":"#666666"},{"offset":0.9,"color":"#f4f4f4"},{"offset":0.975,"color":"#f4f4f4"},{"offset":0.975,"color":"#666666"},{"offset":1,"color":"#666666"}]}},"encoding":{
"x":{"field":"g","type":"nominal","scale":{"domain":["hFN","hBTC1","hRL521","hLECM"],"paddingInner":0.448,"paddingOuter":0.224}},
"xOffset":{"field":"d","type":"nominal","scale":{"domain":["5 days","a","10 days","b","16 days"],"paddingInner":0,"paddingOuter":0}},
"y":{"field":"m","type":"quantitative"},"y2":{"datum":1}}},
{"data":{"name":"v"},"transform":[{"filter":"datum.p=='F'"}],"mark":{"type":"rule","color":"#8c8c8c","strokeWidth":1},"encoding":{
"x":{"field":"g","type":"nominal","scale":{"domain":["hFN","hBTC1","hRL521","hLECM"],"paddingInner":0.448,"paddingOuter":0.224}},
"xOffset":{"field":"d","type":"nominal","scale":{"domain":["5 days","a","10 days","b","16 days"],"paddingInner":0,"paddingOuter":0}},
"y":{"field":"lo","type":"quantitative"},"y2":{"field":"hi"}}},
{"data":{"name":"v"},"transform":[{"filter":"datum.p=='F'"}],"mark":{"type":"tick","color":"#8c8c8c","thickness":1,"size":6},"encoding":{
"x":{"field":"g","type":"nominal","scale":{"domain":["hFN","hBTC1","hRL521","hLECM"],"paddingInner":0.448,"paddingOuter":0.224}},
"xOffset":{"field":"d","type":"nominal","scale":{"domain":["5 days","a","10 days","b","16 days"],"paddingInner":0,"paddingOuter":0}},
"y":{"field":"lo","type":"quantitative"}}},
{"data":{"name":"v"},"transform":[{"filter":"datum.p=='F'"}],"mark":{"type":"tick","color":"#8c8c8c","thickness":1,"size":6},"encoding":{
"x":{"field":"g","type":"nominal","scale":{"domain":["hFN","hBTC1","hRL521","hLECM"],"paddingInner":0.448,"paddingOuter":0.224}},
"xOffset":{"field":"d","type":"nominal","scale":{"domain":["5 days","a","10 days","b","16 days"],"paddingInner":0,"paddingOuter":0}},
"y":{"field":"hi","type":"quantitative"}}}
]},
{"width":290,"height":145,"layer":[
{"data":{"values":[{}]},"mark":{"type":"rule","color":"#a6a6a6","strokeWidth":1.3},"encoding":{"y":{"datum":1,"type":"quantitative"}}},
{"data":{"name":"v"},"transform":[{"filter":"datum.p=='G'"}],"mark":{"type":"bar","width":12.7,"stroke":"#333333"},"encoding":{
"x":{"field":"g","type":"nominal","scale":{"domain":["hFN","hBTC1","hRL521","hLECM"],"paddingInner":0.448,"paddingOuter":0.224},"axis":{"title":"FN1","titleX":128,"titleY":-159}},
"xOffset":{"field":"d","type":"nominal","scale":{"domain":["5 days","a","10 days","b","16 days"],"paddingInner":0,"paddingOuter":0}},
"y":{"field":"m","type":"quantitative","scale":{"type":"log","domain":[0.0001,10],"nice":false},"axis":{"values":[0.0001,0.001,0.01,0.1,1,10],"format":"~g","title":"G.","titleX":-27,"titleY":-10}},
"y2":{"datum":1},
"fill":{"field":"d","type":"nominal","scale":{"domain":["5 days","10 days","16 days"],"range":["#6b6b6b","#1e1e1e","#c4c4c4"]},"legend":{"title":null,"orient":"none","legendX":408,"legendY":601,"direction":"horizontal","symbolType":"square","symbolSize":40,"labelFontSize":10,"labelColor":"#404040","columnPadding":5,"labelOffset":2,"symbolStrokeWidth":0}},
"strokeWidth":{"condition":{"test":"datum.d=='16 days'","value":1},"value":0}}},
{"data":{"name":"v"},"transform":[{"filter":"datum.p=='G' && datum.d=='16 days'"}],"mark":{"type":"bar","width":12.7,"stroke":"#333333","strokeWidth":1,"fill":{"gradient":"linear","x1":0,"y1":0,"x2":1,"y2":1,"stops":[{"offset":0,"color":"#f4f4f4"},{"offset":0.075,"color":"#f4f4f4"},{"offset":0.075,"color":"#666666"},{"offset":0.1,"color":"#666666"},{"offset":0.1,"color":"#f4f4f4"},{"offset":0.175,"color":"#f4f4f4"},{"offset":0.175,"color":"#666666"},{"offset":0.2,"color":"#666666"},{"offset":0.2,"color":"#f4f4f4"},{"offset":0.275,"color":"#f4f4f4"},{"offset":0.275,"color":"#666666"},{"offset":0.3,"color":"#666666"},{"offset":0.3,"color":"#f4f4f4"},{"offset":0.375,"color":"#f4f4f4"},{"offset":0.375,"color":"#666666"},{"offset":0.4,"color":"#666666"},{"offset":0.4,"color":"#f4f4f4"},{"offset":0.475,"color":"#f4f4f4"},{"offset":0.475,"color":"#666666"},{"offset":0.5,"color":"#666666"},{"offset":0.5,"color":"#f4f4f4"},{"offset":0.575,"color":"#f4f4f4"},{"offset":0.575,"color":"#666666"},{"offset":0.6,"color":"#666666"},{"offset":0.6,"color":"#f4f4f4"},{"offset":0.675,"color":"#f4f4f4"},{"offset":0.675,"color":"#666666"},{"offset":0.7,"color":"#666666"},{"offset":0.7,"color":"#f4f4f4"},{"offset":0.775,"color":"#f4f4f4"},{"offset":0.775,"color":"#666666"},{"offset":0.8,"color":"#666666"},{"offset":0.8,"color":"#f4f4f4"},{"offset":0.875,"color":"#f4f4f4"},{"offset":0.875,"color":"#666666"},{"offset":0.9,"color":"#666666"},{"offset":0.9,"color":"#f4f4f4"},{"offset":0.975,"color":"#f4f4f4"},{"offset":0.975,"color":"#666666"},{"offset":1,"color":"#666666"}]}},"encoding":{
"x":{"field":"g","type":"nominal","scale":{"domain":["hFN","hBTC1","hRL521","hLECM"],"paddingInner":0.448,"paddingOuter":0.224}},
"xOffset":{"field":"d","type":"nominal","scale":{"domain":["5 days","a","10 days","b","16 days"],"paddingInner":0,"paddingOuter":0}},
"y":{"field":"m","type":"quantitative"},"y2":{"datum":1}}},
{"data":{"name":"v"},"transform":[{"filter":"datum.p=='G'"}],"mark":{"type":"rule","color":"#8c8c8c","strokeWidth":1},"encoding":{
"x":{"field":"g","type":"nominal","scale":{"domain":["hFN","hBTC1","hRL521","hLECM"],"paddingInner":0.448,"paddingOuter":0.224}},
"xOffset":{"field":"d","type":"nominal","scale":{"domain":["5 days","a","10 days","b","16 days"],"paddingInner":0,"paddingOuter":0}},
"y":{"field":"lo","type":"quantitative"},"y2":{"field":"hi"}}},
{"data":{"name":"v"},"transform":[{"filter":"datum.p=='G'"}],"mark":{"type":"tick","color":"#8c8c8c","thickness":1,"size":6},"encoding":{
"x":{"field":"g","type":"nominal","scale":{"domain":["hFN","hBTC1","hRL521","hLECM"],"paddingInner":0.448,"paddingOuter":0.224}},
"xOffset":{"field":"d","type":"nominal","scale":{"domain":["5 days","a","10 days","b","16 days"],"paddingInner":0,"paddingOuter":0}},
"y":{"field":"lo","type":"quantitative"}}},
{"data":{"name":"v"},"transform":[{"filter":"datum.p=='G'"}],"mark":{"type":"tick","color":"#8c8c8c","thickness":1,"size":6},"encoding":{
"x":{"field":"g","type":"nominal","scale":{"domain":["hFN","hBTC1","hRL521","hLECM"],"paddingInner":0.448,"paddingOuter":0.224}},
"xOffset":{"field":"d","type":"nominal","scale":{"domain":["5 days","a","10 days","b","16 days"],"paddingInner":0,"paddingOuter":0}},
"y":{"field":"hi","type":"quantitative"}}},
{"data":{"name":"br"},"transform":[{"filter":"datum.p=='G'"}],"mark":{"type":"rule","color":"#404040","strokeWidth":1},"encoding":{
"x":{"field":"g","type":"nominal","scale":{"domain":["hFN","hBTC1","hRL521","hLECM"],"paddingInner":0.448,"paddingOuter":0.224}},
"xOffset":{"field":"a","type":"nominal","scale":{"domain":["5 days","a","10 days","b","16 days"],"paddingInner":0,"paddingOuter":0}},
"y":{"field":"top","type":"quantitative"},"y2":{"field":"bot"}}},
{"data":{"name":"br"},"transform":[{"filter":"datum.p=='G'"}],"mark":{"type":"rule","color":"#404040","strokeWidth":1},"encoding":{
"x":{"field":"g","type":"nominal","scale":{"domain":["hFN","hBTC1","hRL521","hLECM"],"paddingInner":0.448,"paddingOuter":0.224}},
"xOffset":{"field":"b","type":"nominal","scale":{"domain":["5 days","a","10 days","b","16 days"],"paddingInner":0,"paddingOuter":0}},
"y":{"field":"top","type":"quantitative"},"y2":{"field":"bot"}}},
{"data":{"name":"br"},"transform":[{"filter":"datum.p=='G' && datum.w=='n'"}],"mark":{"type":"tick","color":"#404040","thickness":1,"size":16},"encoding":{
"x":{"field":"g","type":"nominal","scale":{"domain":["hFN","hBTC1","hRL521","hLECM"],"paddingInner":0.448,"paddingOuter":0.224}},
"xOffset":{"field":"mid","type":"nominal","scale":{"domain":["5 days","a","10 days","b","16 days"],"paddingInner":0,"paddingOuter":0}},
"y":{"field":"top","type":"quantitative"}}},
{"data":{"name":"br"},"transform":[{"filter":"datum.p=='G' && datum.w=='w'"}],"mark":{"type":"tick","color":"#404040","thickness":1,"size":32},"encoding":{
"x":{"field":"g","type":"nominal","scale":{"domain":["hFN","hBTC1","hRL521","hLECM"],"paddingInner":0.448,"paddingOuter":0.224}},
"xOffset":{"field":"mid","type":"nominal","scale":{"domain":["5 days","a","10 days","b","16 days"],"paddingInner":0,"paddingOuter":0}},
"y":{"field":"top","type":"quantitative"}}},
{"data":{"name":"br"},"transform":[{"filter":"datum.p=='G'"}],"mark":{"type":"text","text":"*","fontSize":11,"color":"#404040","baseline":"alphabetic","dy":6},"encoding":{
"x":{"field":"g","type":"nominal","scale":{"domain":["hFN","hBTC1","hRL521","hLECM"],"paddingInner":0.448,"paddingOuter":0.224}},
"xOffset":{"field":"mid","type":"nominal","scale":{"domain":["5 days","a","10 days","b","16 days"],"paddingInner":0,"paddingOuter":0}},
"y":{"field":"star","type":"quantitative"}}}
]}
]}
]
}
